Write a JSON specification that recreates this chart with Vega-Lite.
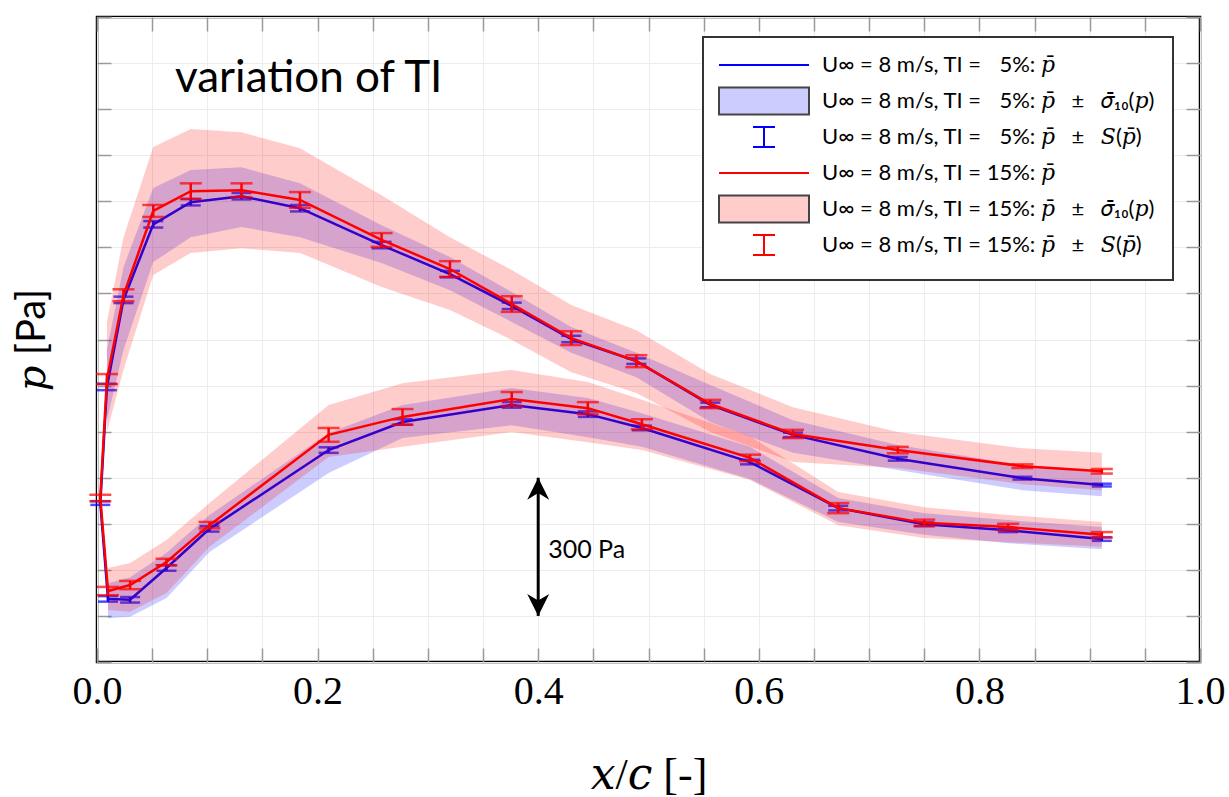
{
  "$schema": "https://vega.github.io/schema/vega-lite/v6.json",
  "width": 1103,
  "height": 645,
  "autosize": {"type": "none"},
  "padding": {"left": 97, "top": 17, "right": 29, "bottom": 135},
  "background": "white",
  "title": {"text": "variation of TI", "anchor": "start", "frame": "group", "offset": 0, "dx": 78, "dy": 120, "baseline": "alphabetic", "font": "Lato", "fontSize": 44, "fontWeight": "normal", "color": "black"},
  "datasets": {
    "pts": [
      {"tap":1,"surface":"lower","x":0.911,"ti":"5%","p":267,"s":4,"lo":245,"hi":293},
      {"tap":2,"surface":"lower","x":0.826,"ti":"5%","p":286,"s":4,"lo":258,"hi":308},
      {"tap":3,"surface":"lower","x":0.750,"ti":"5%","p":299,"s":4,"lo":276,"hi":323},
      {"tap":4,"surface":"lower","x":0.672,"ti":"5%","p":334,"s":5,"lo":304,"hi":356},
      {"tap":5,"surface":"lower","x":0.592,"ti":"5%","p":434,"s":5,"lo":397,"hi":467},
      {"tap":6,"surface":"lower","x":0.494,"ti":"5%","p":508,"s":5,"lo":467,"hi":540},
      {"tap":7,"surface":"lower","x":0.445,"ti":"5%","p":538,"s":6,"lo":488,"hi":573},
      {"tap":8,"surface":"lower","x":0.376,"ti":"5%","p":558,"s":6,"lo":514,"hi":595},
      {"tap":9,"surface":"lower","x":0.277,"ti":"5%","p":521,"s":6,"lo":486,"hi":558},
      {"tap":10,"surface":"lower","x":0.210,"ti":"5%","p":460,"s":6,"lo":410,"hi":497},
      {"tap":11,"surface":"lower","x":0.102,"ti":"5%","p":289,"s":6,"lo":239,"hi":319},
      {"tap":12,"surface":"lower","x":0.063,"ti":"5%","p":204,"s":6,"lo":139,"hi":237},
      {"tap":13,"surface":"lower","x":0.030,"ti":"5%","p":135,"s":6,"lo":98,"hi":184},
      {"tap":14,"surface":"lower","x":0.010,"ti":"5%","p":137,"s":6,"lo":95,"hi":171},
      {"tap":15,"surface":"LE","x":0.003,"ti":"5%","p":345,"s":4,"lo":null,"hi":null},
      {"tap":16,"surface":"upper","x":0.009,"ti":"5%","p":597,"s":7,"lo":525,"hi":677},
      {"tap":17,"surface":"upper","x":0.024,"ti":"5%","p":786,"s":7,"lo":677,"hi":857},
      {"tap":18,"surface":"upper","x":0.051,"ti":"5%","p":950,"s":7,"lo":868,"hi":1029},
      {"tap":19,"surface":"upper","x":0.085,"ti":"5%","p":998,"s":7,"lo":922,"hi":1068},
      {"tap":20,"surface":"upper","x":0.131,"ti":"5%","p":1011,"s":7,"lo":944,"hi":1074},
      {"tap":21,"surface":"upper","x":0.184,"ti":"5%","p":985,"s":7,"lo":922,"hi":1039},
      {"tap":22,"surface":"upper","x":0.258,"ti":"5%","p":905,"s":7,"lo":866,"hi":948},
      {"tap":23,"surface":"upper","x":0.320,"ti":"5%","p":842,"s":7,"lo":807,"hi":879},
      {"tap":24,"surface":"upper","x":0.376,"ti":"5%","p":773,"s":7,"lo":738,"hi":803},
      {"tap":25,"surface":"upper","x":0.430,"ti":"5%","p":701,"s":7,"lo":671,"hi":727},
      {"tap":26,"surface":"upper","x":0.489,"ti":"5%","p":653,"s":6,"lo":618,"hi":671},
      {"tap":27,"surface":"upper","x":0.556,"ti":"5%","p":558,"s":5,"lo":521,"hi":601},
      {"tap":28,"surface":"upper","x":0.631,"ti":"5%","p":493,"s":5,"lo":454,"hi":525},
      {"tap":29,"surface":"upper","x":0.726,"ti":"5%","p":441,"s":4,"lo":417,"hi":471},
      {"tap":30,"surface":"upper","x":0.839,"ti":"5%","p":399,"s":3,"lo":373,"hi":427},
      {"tap":31,"surface":"upper","x":0.911,"ti":"5%","p":384,"s":3,"lo":360,"hi":417},
      {"tap":1,"surface":"lower","x":0.911,"ti":"15%","p":276,"s":6,"lo":250,"hi":304},
      {"tap":2,"surface":"lower","x":0.826,"ti":"15%","p":293,"s":7,"lo":260,"hi":319},
      {"tap":3,"surface":"lower","x":0.750,"ti":"15%","p":302,"s":7,"lo":269,"hi":336},
      {"tap":4,"surface":"lower","x":0.672,"ti":"15%","p":334,"s":11,"lo":297,"hi":369},
      {"tap":5,"surface":"lower","x":0.592,"ti":"15%","p":443,"s":7,"lo":395,"hi":490},
      {"tap":6,"surface":"lower","x":0.494,"ti":"15%","p":516,"s":11,"lo":460,"hi":569},
      {"tap":7,"surface":"lower","x":0.445,"ti":"15%","p":551,"s":13,"lo":477,"hi":608},
      {"tap":8,"surface":"lower","x":0.376,"ti":"15%","p":571,"s":15,"lo":499,"hi":634},
      {"tap":9,"surface":"lower","x":0.277,"ti":"15%","p":532,"s":17,"lo":467,"hi":605},
      {"tap":10,"surface":"lower","x":0.210,"ti":"15%","p":493,"s":15,"lo":445,"hi":558},
      {"tap":11,"surface":"lower","x":0.102,"ti":"15%","p":297,"s":7,"lo":250,"hi":345},
      {"tap":12,"surface":"lower","x":0.063,"ti":"15%","p":217,"s":7,"lo":150,"hi":265},
      {"tap":13,"surface":"lower","x":0.030,"ti":"15%","p":167,"s":9,"lo":109,"hi":215},
      {"tap":14,"surface":"lower","x":0.010,"ti":"15%","p":154,"s":9,"lo":113,"hi":204},
      {"tap":15,"surface":"LE","x":0.003,"ti":"15%","p":356,"s":7,"lo":null,"hi":null},
      {"tap":16,"surface":"upper","x":0.009,"ti":"15%","p":614,"s":11,"lo":499,"hi":738},
      {"tap":17,"surface":"upper","x":0.024,"ti":"15%","p":796,"s":13,"lo":634,"hi":922},
      {"tap":18,"surface":"upper","x":0.051,"ti":"15%","p":979,"s":13,"lo":840,"hi":1118},
      {"tap":19,"surface":"upper","x":0.085,"ti":"15%","p":1022,"s":17,"lo":888,"hi":1157},
      {"tap":20,"surface":"upper","x":0.131,"ti":"15%","p":1024,"s":15,"lo":898,"hi":1150},
      {"tap":21,"surface":"upper","x":0.184,"ti":"15%","p":1003,"s":17,"lo":888,"hi":1115},
      {"tap":22,"surface":"upper","x":0.258,"ti":"15%","p":916,"s":15,"lo":814,"hi":1013},
      {"tap":23,"surface":"upper","x":0.320,"ti":"15%","p":853,"s":17,"lo":764,"hi":922},
      {"tap":24,"surface":"upper","x":0.376,"ti":"15%","p":777,"s":17,"lo":699,"hi":851},
      {"tap":25,"surface":"upper","x":0.430,"ti":"15%","p":703,"s":15,"lo":629,"hi":775},
      {"tap":26,"surface":"upper","x":0.489,"ti":"15%","p":653,"s":13,"lo":584,"hi":720},
      {"tap":27,"surface":"upper","x":0.556,"ti":"15%","p":560,"s":9,"lo":499,"hi":625},
      {"tap":28,"surface":"upper","x":0.631,"ti":"15%","p":495,"s":9,"lo":434,"hi":553},
      {"tap":29,"surface":"upper","x":0.726,"ti":"15%","p":460,"s":7,"lo":421,"hi":499},
      {"tap":30,"surface":"upper","x":0.839,"ti":"15%","p":425,"s":4,"lo":386,"hi":464},
      {"tap":31,"surface":"upper","x":0.911,"ti":"15%","p":414,"s":5,"lo":373,"hi":454}
    ],
    "arrow": [{"x": 0.4, "lo": 100, "hi": 400, "label": "300 Pa"}],
    "legenditems": [
      {"item": "U∞ = 8 m/s, TI = \u20075%: 𝑝̄"},
      {"item": "U∞ = 8 m/s, TI = \u20075%: 𝑝̄\u2003±\u2003𝜎̄₁₀(𝑝)"},
      {"item": "U∞ = 8 m/s, TI = \u20075%: 𝑝̄\u2003±\u2003𝑆(𝑝̄)"},
      {"item": "U∞ = 8 m/s, TI = 15%: 𝑝̄"},
      {"item": "U∞ = 8 m/s, TI = 15%: 𝑝̄\u2003±\u2003𝜎̄₁₀(𝑝)"},
      {"item": "U∞ = 8 m/s, TI = 15%: 𝑝̄\u2003±\u2003𝑆(𝑝̄)"}
    ]
  },
  "data": {"name": "pts"},
  "layer": [
    {
      "transform": [{"filter": "datum.ti === '5%' && datum.surface !== 'LE'"}],
      "mark": {"type": "area", "color": "#0000ff", "fillOpacity": 0.2, "opacity": 1},
      "encoding": {
        "x": {"field": "x", "type": "quantitative",
          "scale": {"domain": [0, 1], "nice": false, "zero": false},
          "axis": {"orient": "bottom", "values": [0,0.05,0.1,0.15,0.2,0.25,0.3,0.35,0.4,0.45,0.5,0.55,0.6,0.65,0.7,0.75,0.8,0.85,0.9,0.95,1],
            "labelExpr": "abs(datum.value*5 - round(datum.value*5)) < 0.000001 ? format(datum.value, '.1f') : ''",
            "labelFont": "Liberation Serif", "labelFontSize": 40, "labelColor": "black", "labelPadding": 23,
            "labelFlush": false, "labelOverlap": false,
            "ticks": true, "tickSize": -14, "grid": true, "domain": false,
            "title": "𝑥/𝑐 [-]", "titleFont": "Liberation Serif, DejaVu Serif", "titleFontSize": 44, "titleFontWeight": "normal", "titleColor": "black", "titlePadding": 42}},
        "y": {"field": "lo", "type": "quantitative",
          "scale": {"domain": [0, 1400], "nice": false, "zero": false},
          "axis": {"orient": "left", "values": [0,100,200,300,400,500,600,700,800,900,1000,1100,1200,1300,1400],
            "labels": false, "ticks": true, "tickSize": -14, "grid": true, "domain": false,
            "title": "𝑝 [Pa]", "titleFont": "Lato, DejaVu Serif", "titleFontSize": 40, "titleFontWeight": "normal", "titleColor": "black", "titlePadding": 44}},
        "y2": {"field": "hi"},
        "detail": {"field": "surface"}
      }
    },
    {
      "transform": [{"filter": "datum.ti === '5%'"}],
      "mark": {"type": "line", "color": "#0000ff", "strokeWidth": 2.5},
      "encoding": {
        "x": {"field": "x", "type": "quantitative",
          "axis": {"orient": "top", "values": [0,0.05,0.1,0.15,0.2,0.25,0.3,0.35,0.4,0.45,0.5,0.55,0.6,0.65,0.7,0.75,0.8,0.85,0.9,0.95,1],
            "labels": false, "ticks": true, "tickSize": -14, "grid": false, "domain": false, "title": null}},
        "y": {"field": "p", "type": "quantitative",
          "axis": {"orient": "right", "values": [0,100,200,300,400,500,600,700,800,900,1000,1100,1200,1300,1400],
            "labels": false, "ticks": true, "tickSize": -14, "grid": false, "domain": false, "title": null}},
        "order": {"field": "tap", "type": "quantitative"}
      }
    },
    {
      "transform": [{"filter": "datum.ti === '5%'"}],
      "mark": {"type": "errorbar", "color": "#0000ff", "thickness": 2.5, "ticks": {"size": 20}},
      "encoding": {
        "x": {"field": "x", "type": "quantitative", "axis": null},
        "y": {"field": "p", "type": "quantitative", "axis": null},
        "yError": {"field": "s"}
      }
    },
    {
      "transform": [{"filter": "datum.ti === '15%' && datum.surface !== 'LE'"}],
      "mark": {"type": "area", "color": "#ff0000", "fillOpacity": 0.2, "opacity": 1},
      "encoding": {
        "x": {"field": "x", "type": "quantitative", "axis": null},
        "y": {"field": "lo", "type": "quantitative", "axis": null},
        "y2": {"field": "hi"},
        "detail": {"field": "surface"}
      }
    },
    {
      "transform": [{"filter": "datum.ti === '15%'"}],
      "mark": {"type": "line", "color": "#ff0000", "strokeWidth": 2.5},
      "encoding": {
        "x": {"field": "x", "type": "quantitative", "axis": null},
        "y": {"field": "p", "type": "quantitative", "axis": null},
        "order": {"field": "tap", "type": "quantitative"}
      }
    },
    {
      "transform": [{"filter": "datum.ti === '15%'"}],
      "mark": {"type": "errorbar", "color": "#ff0000", "thickness": 2.5, "ticks": {"size": 22}},
      "encoding": {
        "x": {"field": "x", "type": "quantitative", "axis": null},
        "y": {"field": "p", "type": "quantitative", "axis": null},
        "yError": {"field": "s"}
      }
    },
    {
      "data": {"name": "arrow"},
      "mark": {"type": "rule", "color": "black", "strokeWidth": 3},
      "encoding": {
        "x": {"field": "x", "type": "quantitative", "axis": null},
        "y": {"field": "lo", "type": "quantitative", "axis": null},
        "y2": {"field": "hi"}
      }
    },
    {
      "data": {"name": "arrow"},
      "mark": {"type": "point", "shape": "M0,0L1,2L0,1.4L-1,2Z", "size": 484, "filled": true, "color": "black", "opacity": 1},
      "encoding": {
        "x": {"field": "x", "type": "quantitative", "axis": null},
        "y": {"field": "hi", "type": "quantitative", "axis": null}
      }
    },
    {
      "data": {"name": "arrow"},
      "mark": {"type": "point", "shape": "M0,0L1,-2L0,-1.4L-1,-2Z", "size": 484, "filled": true, "color": "black", "opacity": 1},
      "encoding": {
        "x": {"field": "x", "type": "quantitative", "axis": null},
        "y": {"field": "lo", "type": "quantitative", "axis": null}
      }
    },
    {
      "data": {"name": "arrow"},
      "mark": {"type": "text", "align": "left", "baseline": "middle", "dx": 10, "font": "Lato", "fontSize": 25, "color": "black"},
      "encoding": {
        "x": {"field": "x", "type": "quantitative", "axis": null},
        "y": {"datum": 243, "type": "quantitative", "axis": null},
        "text": {"field": "label"}
      }
    },
    {
      "data": {"name": "legenditems"},
      "mark": {"type": "point", "size": 0, "opacity": 1},
      "encoding": {
        "shape": {"field": "item", "type": "nominal",
          "scale": {"domain": ["U∞ = 8 m/s, TI = \u20075%: 𝑝̄", "U∞ = 8 m/s, TI = \u20075%: 𝑝̄\u2003±\u2003𝜎̄₁₀(𝑝)", "U∞ = 8 m/s, TI = \u20075%: 𝑝̄\u2003±\u2003𝑆(𝑝̄)", "U∞ = 8 m/s, TI = 15%: 𝑝̄", "U∞ = 8 m/s, TI = 15%: 𝑝̄\u2003±\u2003𝜎̄₁₀(𝑝)", "U∞ = 8 m/s, TI = 15%: 𝑝̄\u2003±\u2003𝑆(𝑝̄)"],
            "range": ["M0,-2.7M0,2.7M-9,0H9", "M-9,-2.7H9V2.7H-9Z", "M0,-2.7M0,2.7M-2.2,-2H2.2M0,-2V2M-2.2,2H2.2", "M0,-2.7M0,2.7M-9,0H9", "M-9,-2.7H9V2.7H-9Z", "M0,-2.7M0,2.7M-2.2,-2H2.2M0,-2V2M-2.2,2H2.2"]},
          "legend": {"orient": "none", "legendX": 606, "legendY": 20, "title": null, "labelFont": "Lato, DejaVu Serif", "labelFontSize": 22, "labelColor": "black", "labelLimit": 700, "symbolSize": 100, "symbolStrokeWidth": 2, "symbolOffset": 33, "labelOffset": 47, "rowPadding": 0, "padding": 17, "strokeColor": "#333333", "fillColor": "white", "symbolOpacity": 1}},
        "fill": {"field": "item", "type": "nominal",
          "scale": {"domain": ["U∞ = 8 m/s, TI = \u20075%: 𝑝̄", "U∞ = 8 m/s, TI = \u20075%: 𝑝̄\u2003±\u2003𝜎̄₁₀(𝑝)", "U∞ = 8 m/s, TI = \u20075%: 𝑝̄\u2003±\u2003𝑆(𝑝̄)", "U∞ = 8 m/s, TI = 15%: 𝑝̄", "U∞ = 8 m/s, TI = 15%: 𝑝̄\u2003±\u2003𝜎̄₁₀(𝑝)", "U∞ = 8 m/s, TI = 15%: 𝑝̄\u2003±\u2003𝑆(𝑝̄)"],
            "range": ["transparent", "#ccccff", "transparent", "transparent", "#ffcccc", "transparent"]},
          "legend": {"orient": "none", "legendX": 606, "legendY": 20, "title": null, "labelFont": "Lato, DejaVu Serif", "labelFontSize": 22, "labelColor": "black", "labelLimit": 700, "symbolSize": 100, "symbolStrokeWidth": 2, "symbolOffset": 33, "labelOffset": 47, "rowPadding": 0, "padding": 17, "strokeColor": "#333333", "fillColor": "white", "symbolOpacity": 1}},
        "stroke": {"field": "item", "type": "nominal",
          "scale": {"domain": ["U∞ = 8 m/s, TI = \u20075%: 𝑝̄", "U∞ = 8 m/s, TI = \u20075%: 𝑝̄\u2003±\u2003𝜎̄₁₀(𝑝)", "U∞ = 8 m/s, TI = \u20075%: 𝑝̄\u2003±\u2003𝑆(𝑝̄)", "U∞ = 8 m/s, TI = 15%: 𝑝̄", "U∞ = 8 m/s, TI = 15%: 𝑝̄\u2003±\u2003𝜎̄₁₀(𝑝)", "U∞ = 8 m/s, TI = 15%: 𝑝̄\u2003±\u2003𝑆(𝑝̄)"],
            "range": ["#0000ff", "#444444", "#0000ff", "#ff0000", "#444444", "#ff0000"]},
          "legend": {"orient": "none", "legendX": 606, "legendY": 20, "title": null, "labelFont": "Lato, DejaVu Serif", "labelFontSize": 22, "labelColor": "black", "labelLimit": 700, "symbolSize": 100, "symbolStrokeWidth": 2, "symbolOffset": 33, "labelOffset": 47, "rowPadding": 0, "padding": 17, "strokeColor": "#333333", "fillColor": "white", "symbolOpacity": 1}}
      }
    }
  ],
  "config": {
    "view": {"stroke": "#000000", "strokeWidth": 2.5},
    "axis": {"tickColor": "#999999", "tickWidth": 1.5, "gridColor": "#ececec", "gridWidth": 1},
    "legend": {"strokeWidth": 2}
  }
}
